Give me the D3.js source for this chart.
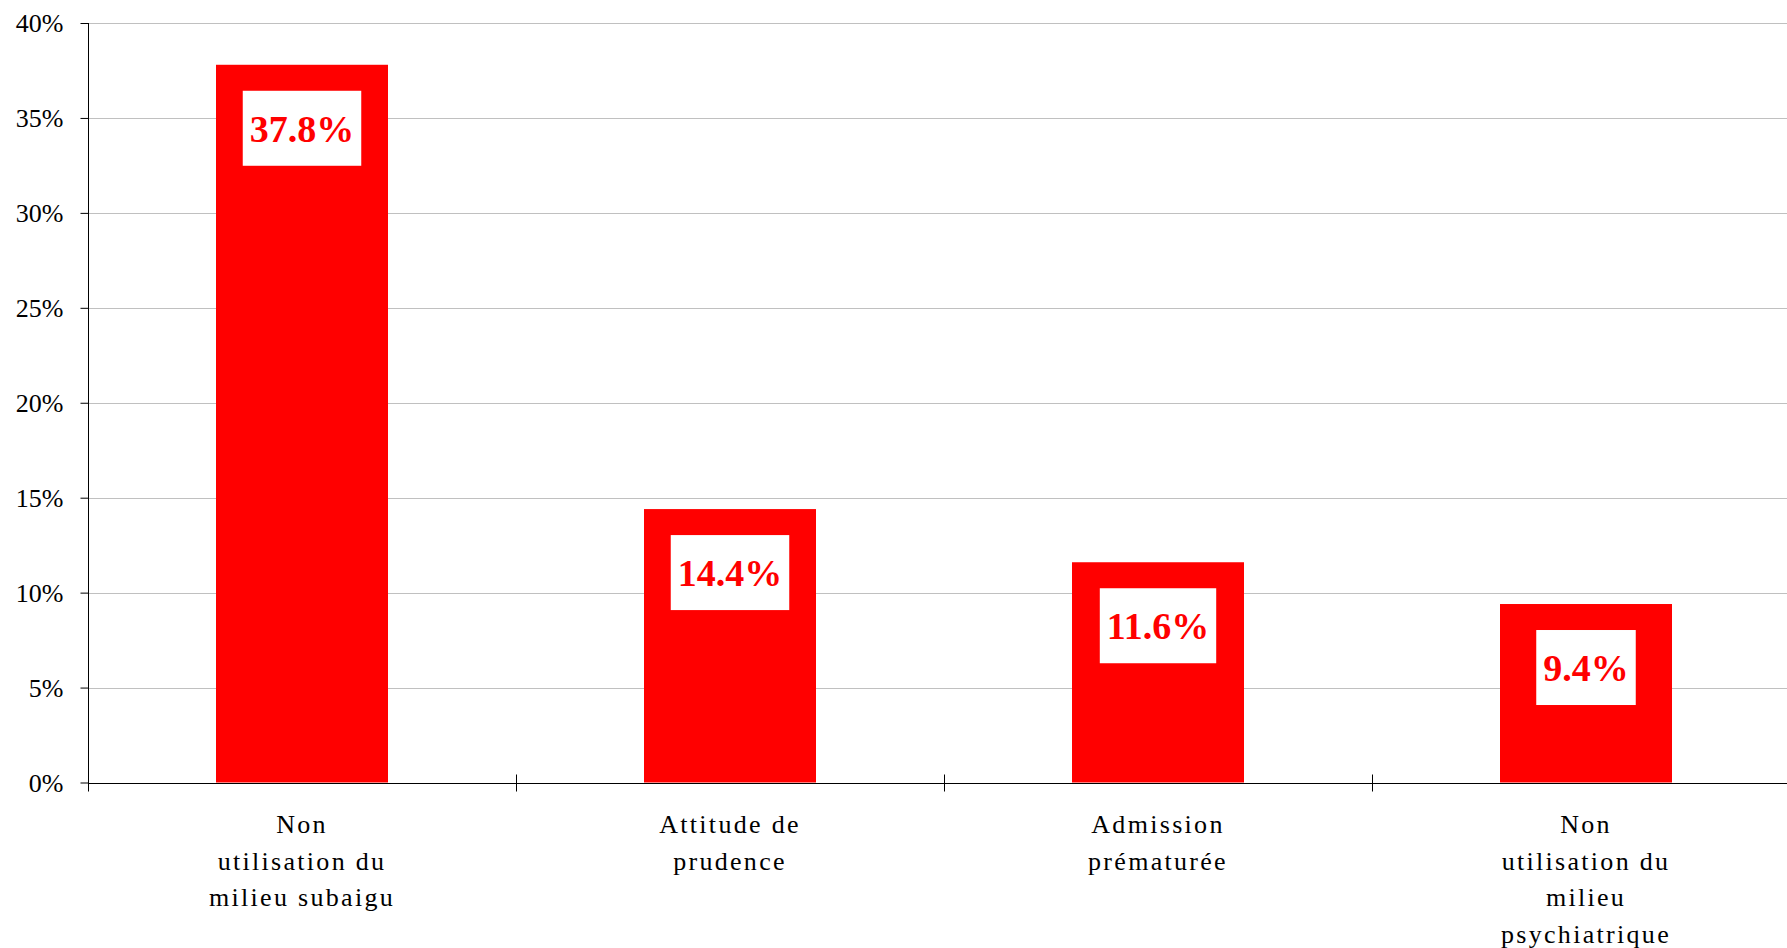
<!DOCTYPE html>
<html>
<head>
<meta charset="utf-8">
<script src="https://cdn.jsdelivr.net/npm/d3@7"></script>
<style>
  html, body { margin: 0; padding: 0; background: #fff; overflow: hidden; }
  svg { display: block; }
</style>
</head>
<body>
<svg id="chart" width="1787" height="948"></svg>
<script>
// ---- data ----
const categories = [
  ["Non", "utilisation du", "milieu subaigu"],
  ["Attitude de", "prudence"],
  ["Admission", "prématurée"],
  ["Non", "utilisation du", "milieu", "psychiatrique"]
];
const values = [0.378, 0.144, 0.116, 0.094];
const valueLabels = ["37.8%", "14.4%", "11.6%", "9.4%"];
const yTicks = [0, 0.05, 0.10, 0.15, 0.20, 0.25, 0.30, 0.35, 0.40];
const yTickLabels = ["0%", "5%", "10%", "15%", "20%", "25%", "30%", "35%", "40%"];

// ---- layout ----
const svg = d3.select("#chart");
const plotLeft = 88, plotTop = 23, plotBottom = 782.5, step = 428;
const plotRight = plotLeft + step * categories.length;
const serif = "'Liberation Serif', 'Times New Roman', serif";

const x = d3.scaleBand()
  .domain(d3.range(categories.length))
  .range([plotLeft, plotRight])
  .paddingInner(1 - 172 / step)
  .paddingOuter((1 - 172 / step) / 2);

const y = d3.scaleLinear().domain([0, 0.4]).range([plotBottom, plotTop]);

// gridlines
svg.append("g")
  .selectAll("line")
  .data(yTicks.filter(d => d > 0))
  .join("line")
  .attr("x1", plotLeft).attr("x2", plotRight)
  .attr("y1", d => Math.round(y(d)) + 0.5).attr("y2", d => Math.round(y(d)) + 0.5)
  .attr("stroke", "#c0c0c0").attr("stroke-width", 1);

// bars
svg.append("g")
  .selectAll("rect")
  .data(values)
  .join("rect")
  .attr("x", (d, i) => x(i))
  .attr("width", x.bandwidth())
  .attr("y", d => y(d))
  .attr("height", d => y(0) - y(d))
  .attr("fill", "#ff0000");

// y axis
const yAxis = d3.axisLeft(y)
  .tickValues(yTicks)
  .tickFormat((d, i) => yTickLabels[i])
  .tickSize(8)
  .tickPadding(17);
const gy = svg.append("g")
  .attr("transform", `translate(${plotLeft + 0.5},0)`)
  .call(yAxis);
gy.select(".domain").remove();
gy.append("line").attr("x1", 0).attr("x2", 0).attr("y1", plotTop).attr("y2", plotBottom + 9).attr("stroke", "#000");
gy.selectAll(".tick line").attr("stroke", "#000");
gy.selectAll(".tick text")
  .attr("font-family", serif).attr("font-size", 26).attr("fill", "#000")
  .attr("dy", "0.33em");

// x axis line and crossing ticks at category boundaries
const gx = svg.append("g");
gx.append("line")
  .attr("x1", plotLeft).attr("x2", plotRight)
  .attr("y1", Math.round(plotBottom) + 0.5).attr("y2", Math.round(plotBottom) + 0.5)
  .attr("stroke", "#000");
gx.selectAll("line.tk")
  .data(d3.range(1, categories.length + 1))
  .join("line").attr("class", "tk")
  .attr("x1", i => Math.round(x(i - 1) - x.step() * x.paddingOuter() + x.step()) + 0.5)
  .attr("x2", i => Math.round(x(i - 1) - x.step() * x.paddingOuter() + x.step()) + 0.5)
  .attr("y1", plotBottom - 8).attr("y2", plotBottom + 9)
  .attr("stroke", "#000");

// category labels
const lab = svg.append("g")
  .selectAll("text")
  .data(categories)
  .join("text")
  .attr("x", (d, i) => x(i) + x.bandwidth() / 2)
  .attr("y", 833)
  .attr("text-anchor", "middle")
  .attr("font-family", serif)
  .attr("font-size", 26)
  .attr("letter-spacing", "2.3px")
  .attr("fill", "#000");
lab.selectAll("tspan")
  .data(d => d)
  .join("tspan")
  .attr("x", function () { return d3.select(this.parentNode).attr("x"); })
  .attr("dy", (d, i) => i === 0 ? 0 : 36.5)
  .text(d => d);

// value labels in white boxes
const vl = svg.append("g")
  .selectAll("g")
  .data(values)
  .join("g");
vl.each(function (d, i) {
  const g = d3.select(this);
  const cx = x(i) + x.bandwidth() / 2;
  const boxTop = y(d) + 26;
  const boxH = 75;
  const t = g.append("text")
    .attr("x", cx)
    .attr("y", boxTop + boxH / 2)
    .attr("dy", "0.35em")
    .attr("text-anchor", "middle")
    .attr("font-family", serif)
    .attr("font-weight", "bold")
    .attr("font-size", 38)
    .attr("fill", "#ff0000")
    .text(valueLabels[i]);
  const w = t.node().getComputedTextLength() + 14;
  g.insert("rect", "text")
    .attr("x", cx - w / 2)
    .attr("y", boxTop)
    .attr("width", w)
    .attr("height", boxH)
    .attr("fill", "#fff");
});
</script>
</body>
</html>
